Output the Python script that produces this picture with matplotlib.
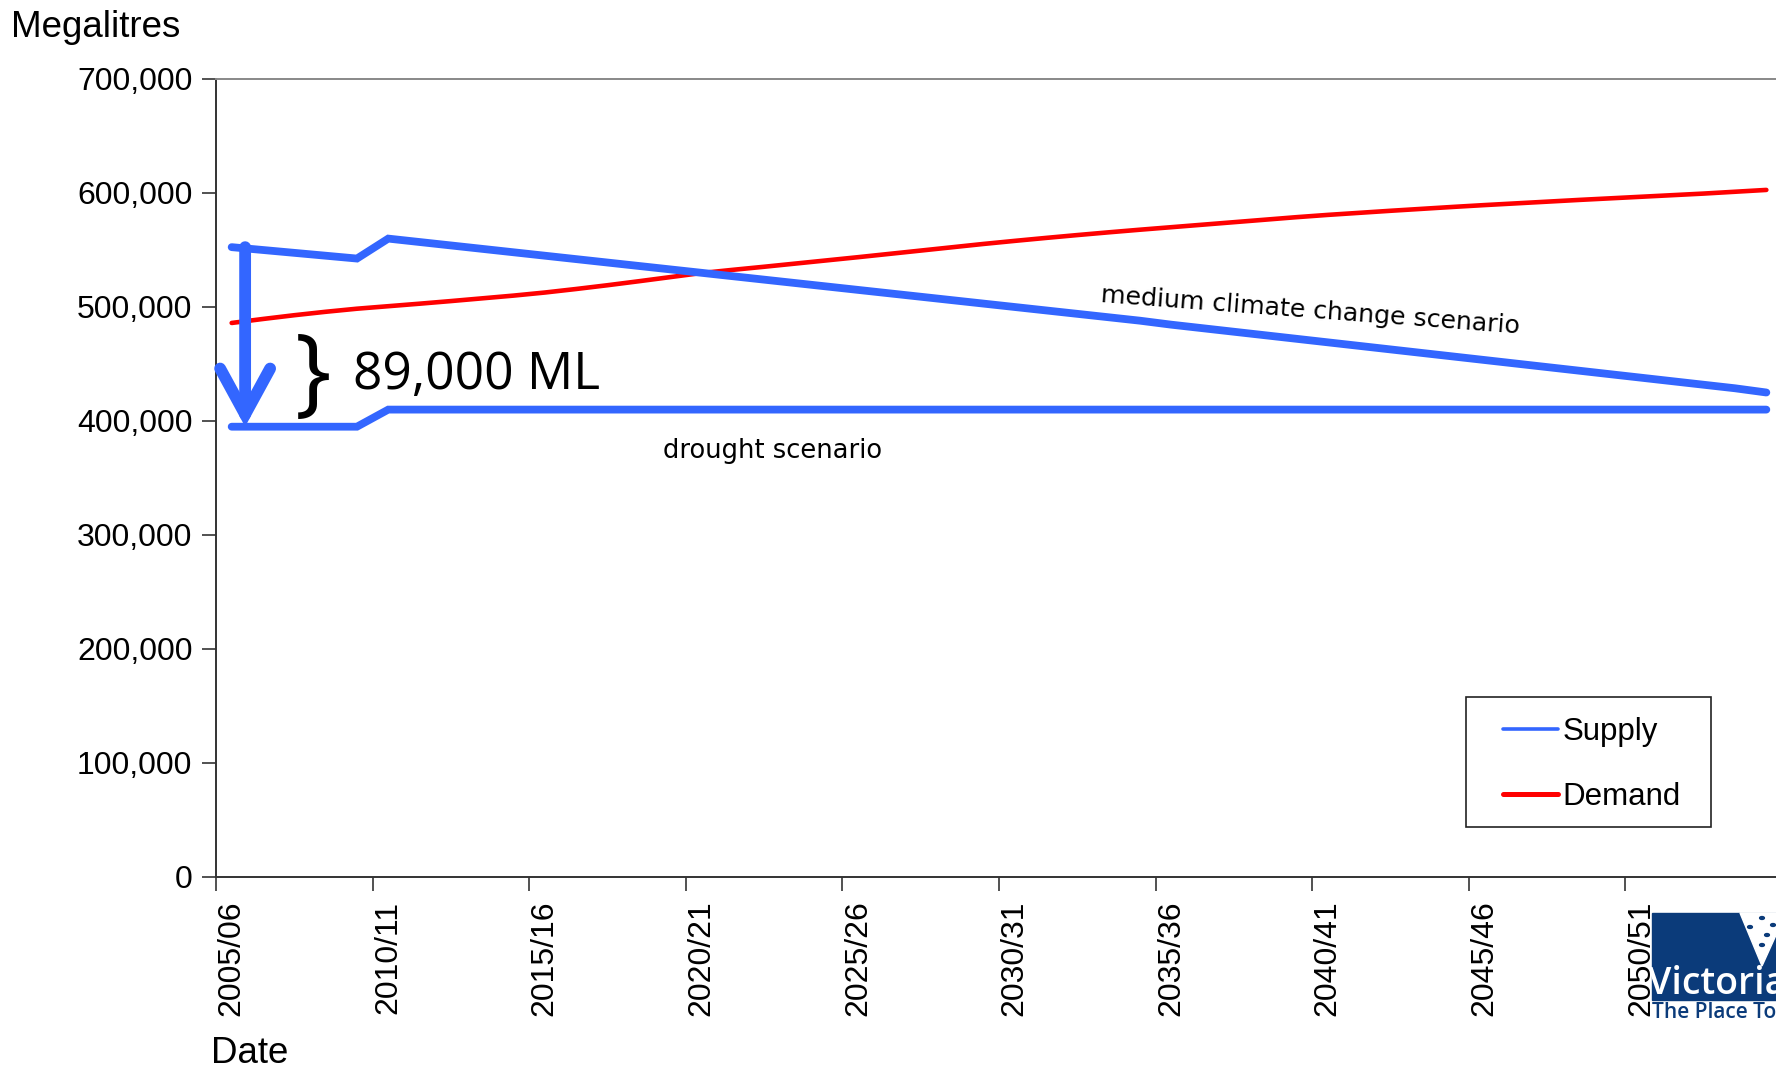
import matplotlib
matplotlib.use('Agg')
import matplotlib.pyplot as plt
from matplotlib.patches import Rectangle, Polygon, Circle
from matplotlib.ticker import FuncFormatter
import numpy as np

# financial years 2005/06 .. 2054/55
years = [f'{y}/{(y + 1) % 100:02d}' for y in range(2005, 2055)]

supply_medium = [552500, 550000, 547500, 545000, 542500, 560000, 557000, 554000,
                 551000, 548000, 545000, 542000, 539000, 536000, 533000, 530000,
                 527000, 524000, 521000, 518000, 515000, 512000, 509000, 506000,
                 503000, 500000, 497000, 494000, 491000, 488000, 484500, 481400,
                 478300, 475200, 472100, 469000, 465900, 462800, 459700, 456600,
                 453500, 450400, 447300, 444200, 441100, 438000, 434900, 431800,
                 428700, 425000]

supply_drought = [395000, 395000, 395000, 395000, 395000, 410000, 410000, 410000,
                  410000, 410000, 410000, 410000, 410000, 410000, 410000, 410000,
                  410000, 410000, 410000, 410000, 410000, 410000, 410000, 410000,
                  410000, 410000, 410000, 410000, 410000, 410000, 410000, 410000,
                  410000, 410000, 410000, 410000, 410000, 410000, 410000, 410000,
                  410000, 410000, 410000, 410000, 410000, 410000, 410000, 410000,
                  410000, 410000]

demand = [486000, 489500, 492800, 495800, 498500, 500700, 502900, 505200,
          507600, 510000, 512700, 515800, 519100, 522600, 526200, 529800,
          532600, 535300, 538100, 540900, 543700, 546600, 549500, 552400,
          555300, 558000, 560600, 563100, 565500, 567800, 570000, 572200,
          574400, 576600, 578800, 580800, 582600, 584400, 586100, 587800,
          589400, 590900, 592400, 593900, 595300, 596700, 598100, 599500,
          601100, 602700]

y_ticks = [0, 100000, 200000, 300000, 400000, 500000, 600000, 700000]
label_every = 5

BLUE = '#3366ff'
RED = '#ff0000'
W, H = 1776, 1070

plt.rcParams['font.family'] = ['Liberation Sans', 'DejaVu Sans']

fig = plt.figure(figsize=(W / 100, H / 100), dpi=100)
ax = fig.add_axes([216 / W, 1 - 877 / H, 1566 / W, 798 / H])

x = np.arange(len(years))
ax.plot(x, supply_medium, color=BLUE, lw=5.6, solid_capstyle='round',
        solid_joinstyle='miter', label='Supply', zorder=3)
ax.plot(x, supply_drought, color=BLUE, lw=5.6, solid_capstyle='round',
        solid_joinstyle='miter', zorder=3)
ax.plot(x, demand, color=RED, lw=3.3, solid_capstyle='round', label='Demand',
        zorder=2)

ax.set_xlim(-0.5, len(years) - 0.5)
ax.set_ylim(0, 700000)

# labels at category centres, tick marks on category boundaries
ax.set_xticks(x[::label_every])
ax.set_xticklabels(years[::label_every], rotation=90, fontsize=23)
ax.set_xticks(np.arange(-0.5, len(years), label_every), minor=True)
ax.tick_params(axis='x', which='major', length=0, pad=17)
ax.tick_params(axis='x', which='minor', length=10, width=1.2, color='#333333')

ax.set_yticks(y_ticks)
ax.yaxis.set_major_formatter(FuncFormatter(lambda v, p: f'{int(v):,}'))
ax.tick_params(axis='y', length=10, width=1.2, color='#333333', pad=7,
               labelsize=23)

for s in ['left', 'bottom']:
    ax.spines[s].set_color('#333333')
    ax.spines[s].set_linewidth(1.4)
for s in ['top', 'right']:
    ax.spines[s].set_color('#888888')
    ax.spines[s].set_linewidth(1.4)

fig.text(11 / W, 1 - 37 / H, 'Megalitres', fontsize=26.5, va='baseline')
fig.text(211 / W, 1 - 1063 / H, 'Date', fontsize=26.5, va='baseline')

# drop from medium scenario to drought scenario
ax.annotate('', xy=(0.43, supply_drought[0]), xytext=(0.43, supply_medium[0]),
            arrowprops=dict(arrowstyle='->,head_length=33,head_width=18',
                            mutation_scale=1, lw=8.5, color=BLUE,
                            shrinkA=0, shrinkB=0, capstyle='round',
                            joinstyle='miter'), zorder=4)

ax.text(2.6, 437000, '}', fontsize=70, family='Open Sans', ha='center',
        va='center')
ax.text(3.86, 427700, '89,000 ML', fontsize=37, family='Open Sans',
        va='baseline')

ax.text(17.26, 373500, 'drought scenario', fontsize=18.5, family='DejaVu Sans',
        ha='center', va='center')
ax.text(34.45, 497000, 'medium climate change scenario', fontsize=18.2,
        family='DejaVu Sans', ha='center', va='center', rotation=-4.3,
        rotation_mode='anchor')

leg = ax.legend(loc='center left', bbox_to_anchor=(0.822, 0.141), frameon=False,
                fontsize=22.5, handlelength=1.75, handletextpad=0.15,
                labelspacing=1.1, borderpad=0, borderaxespad=0)
leg.get_lines()[0].set_linewidth(2.6)
leg.get_lines()[1].set_linewidth(3.6)
ax.add_patch(Rectangle((0.798, 0.0627), 0.1565, 0.163, transform=ax.transAxes,
                       fill=False, edgecolor='#222222', lw=1.2, zorder=5))

# state logo, bottom right
NAVY = '#0b3b7a'
fig.add_artist(Rectangle((1652 / W, 1 - 1000 / H), 130 / W, 87 / H,
                         transform=fig.transFigure, color=NAVY, zorder=-5))
fig.add_artist(Polygon([(1740 / W, 1 - 913 / H), (1786 / W, 1 - 913 / H),
                        (1762 / W, 1 - 966 / H)], closed=True,
                       transform=fig.transFigure, color='white', zorder=-4))
for px, py in [(1762, 918), (1750, 927), (1773, 925), (1767, 935), (1762, 945)]:
    fig.add_artist(Circle((px / W, 1 - py / H), 2.4 / W, transform=fig.transFigure,
                          color=NAVY, zorder=-3))
fig.text(1648 / W, 1 - 994 / H, 'Victoria', fontsize=27, family='Open Sans',
         weight='semibold', color='white', va='baseline', zorder=-3)
fig.text(1652 / W, 1 - 1018 / H, 'The Place To Be', fontsize=15,
         family='Open Sans', weight='semibold', color=NAVY, va='baseline',
         zorder=-3)

fig.savefig('out.png', dpi=100)
